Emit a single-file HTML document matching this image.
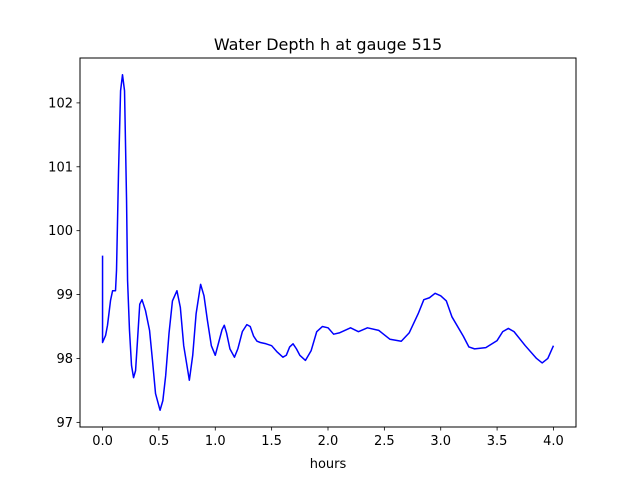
<!DOCTYPE html>
<html><head><meta charset="utf-8"><style>
html,body{margin:0;padding:0;background:#fff;}
svg{display:block;font-family:"DejaVu Sans","Liberation Sans",sans-serif;}
</style></head><body>
<svg id="chart" width="640" height="480" viewBox="0 0 640 480" xmlns="http://www.w3.org/2000/svg">
<rect x="0" y="0" width="640" height="480" fill="#fff"/>
<text x="328" y="50" font-size="16" text-anchor="middle" fill="#000">Water Depth h at gauge 515</text>
<g id="plot"></g>
<text x="328" y="468" font-size="13" text-anchor="middle" fill="#000">hours</text>
</svg>
<script>
const hours = [0,0,0.027,0.044,0.071,0.089,0.115,0.124,0.142,0.16,0.177,0.195,0.213,0.222,0.239,0.257,0.275,0.293,0.31,0.33,0.35,0.381,0.417,0.443,0.47,0.51,0.535,0.56,0.59,0.62,0.66,0.69,0.72,0.77,0.8,0.83,0.87,0.9,0.93,0.965,1.0,1.03,1.06,1.08,1.1,1.13,1.17,1.2,1.24,1.28,1.31,1.34,1.37,1.4,1.45,1.5,1.55,1.6,1.63,1.66,1.69,1.72,1.75,1.8,1.85,1.9,1.95,2.0,2.05,2.1,2.2,2.27,2.35,2.45,2.55,2.65,2.72,2.8,2.85,2.9,2.95,3.0,3.05,3.1,3.2,3.25,3.3,3.4,3.5,3.55,3.6,3.65,3.75,3.85,3.9,3.95,4.0];
const depth = [99.61,98.25,98.36,98.52,98.91,99.06,99.06,99.38,100.94,102.19,102.44,102.19,100.47,99.22,98.44,97.89,97.7,97.81,98.28,98.85,98.92,98.75,98.44,97.97,97.45,97.19,97.34,97.73,98.4,98.9,99.06,98.8,98.2,97.66,98.05,98.7,99.16,98.98,98.6,98.2,98.05,98.25,98.45,98.52,98.4,98.15,98.02,98.15,98.42,98.53,98.5,98.35,98.27,98.25,98.23,98.2,98.1,98.02,98.05,98.18,98.23,98.15,98.05,97.97,98.12,98.42,98.5,98.48,98.38,98.4,98.48,98.42,98.48,98.44,98.3,98.27,98.4,98.7,98.92,98.95,99.02,98.98,98.9,98.65,98.35,98.18,98.15,98.17,98.28,98.42,98.47,98.42,98.2,98.0,97.93,98.0,98.2];
const xTicks = [0.0,0.5,1.0,1.5,2.0,2.5,3.0,3.5,4.0];
const xTickLabels = ["0.0","0.5","1.0","1.5","2.0","2.5","3.0","3.5","4.0"];
const yTicks = [97,98,99,100,101,102];
const yTickLabels = ["97","98","99","100","101","102"];

const NS="http://www.w3.org/2000/svg";
const L=80,R=576,T=58,B=427;
const xmin0=Math.min(...hours),xmax0=Math.max(...hours);
const ymin0=Math.min(...depth),ymax0=Math.max(...depth);
const xm=(xmax0-xmin0)*0.05, ym=(ymax0-ymin0)*0.05;
const xlo=xmin0-xm,xhi=xmax0+xm,ylo=ymin0-ym,yhi=ymax0+ym;
function sx(v){return L+(v-xlo)/(xhi-xlo)*(R-L);}
function sy(v){return B-(v-ylo)/(yhi-ylo)*(B-T);}
const g=document.getElementById('plot');
function mk(tag,attrs){const e=document.createElementNS(NS,tag);for(const k in attrs)e.setAttribute(k,attrs[k]);g.appendChild(e);return e;}

const line=mk('polyline',{points:hours.map((h,i)=>sx(h).toFixed(2)+','+sy(depth[i]).toFixed(2)).join(' '),fill:'none',stroke:'#0000ff','stroke-width':'1.5','stroke-linejoin':'round'});



const frame=mk('rect',{x:L,y:T,width:R-L,height:B-T,fill:'none',stroke:'#000','stroke-width':'1'});



xTicks.forEach((v,i)=>{
  const x=sx(v);
  const t=mk('line',{x1:x,x2:x,y1:B,y2:B+3.5,stroke:'#000','stroke-width':'0.8'});
  
  
  const lb=mk('text',{x:x,y:B+18,'font-size':'13','text-anchor':'middle',fill:'#000'});
  lb.textContent=xTickLabels[i];
  
  
});
yTicks.forEach((v,i)=>{
  const y=sy(v);
  const t=mk('line',{x1:L-3.5,x2:L,y1:y,y2:y,stroke:'#000','stroke-width':'0.8'});
  
  
  const lb=mk('text',{x:L-7,y:y+4.5,'font-size':'13','text-anchor':'end',fill:'#000'});
  lb.textContent=yTickLabels[i];
  
  
});
</script>
</body></html>
